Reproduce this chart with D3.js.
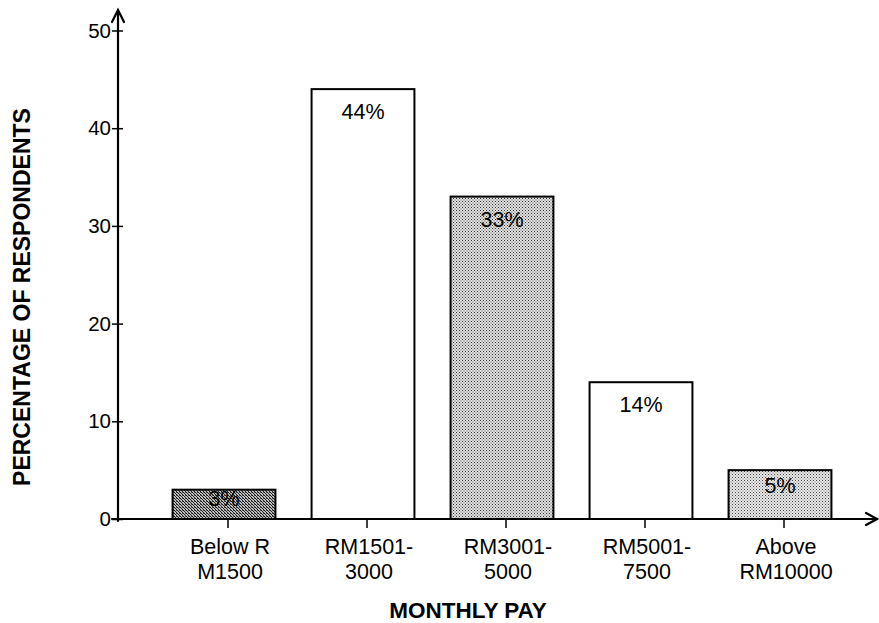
<!DOCTYPE html>
<html>
<head>
<meta charset="utf-8">
<script src="https://cdn.jsdelivr.net/npm/d3@7"></script>
<style>
  html, body { margin: 0; padding: 0; background: #fff; }
  svg { display: block; font-family: Arial, "Liberation Sans", Helvetica, sans-serif; }
</style>
</head>
<body>
<svg id="chart" width="879" height="623"></svg>
<script>
// Monthly pay bands (two-line labels) and share of respondents (%)
const categories = [
  ["Below R", "M1500"],
  ["RM1501-", "3000"],
  ["RM3001-", "5000"],
  ["RM5001-", "7500"],
  ["Above", "RM10000"]
];
const values = [3, 44, 33, 14, 5];
const valueLabels = ["3%", "44%", "33%", "14%", "5%"];
const yTicks = [0, 10, 20, 30, 40, 50];

// Fill style of each bar (pattern id or plain white)
const barFills = ["dense", "white", "dots", "white", "dotsLight"];

const svg = d3.select("#chart");

const axisX = 118, axisY = 519;

const x = d3.scaleBand()
  .domain(d3.range(values.length))
  .range([154.5, 849.5])
  .paddingInner(0.26)
  .paddingOuter(0.13);

const y = d3.scaleLinear().domain([0, 50]).range([axisY, 30.5]);

// Patterns
const defs = svg.append("defs");
function pattern(id, bg, dotsSpec) {
  const p = defs.append("pattern").attr("id", id)
    .attr("width", 3).attr("height", 3).attr("patternUnits", "userSpaceOnUse");
  p.append("rect").attr("width", 3).attr("height", 3).attr("fill", bg);
  dotsSpec.forEach(([px, py, c]) => {
    p.append("rect").attr("x", px).attr("y", py).attr("width", 1).attr("height", 1).attr("fill", c);
  });
}
pattern("dense", "#bdbdbd", [[0, 0, "#111"], [1, 1, "#222"], [2, 2, "#222"], [2, 0, "#555"]]);
pattern("dots", "#e0e0e0", [[0, 0, "#333"], [1.5, 1.5, "#555"]]);
pattern("dotsLight", "#e8e8e8", [[0, 0, "#444"], [1.5, 1.5, "#777"]]);

// Bars
svg.append("g").selectAll("rect")
  .data(values)
  .join("rect")
  .attr("x", (d, i) => x(i))
  .attr("y", d => y(d))
  .attr("width", x.bandwidth())
  .attr("height", d => y(0) - y(d))
  .attr("fill", (d, i) => barFills[i] === "white" ? "#fff" : `url(#${barFills[i]})`)
  .attr("stroke", "#000")
  .attr("stroke-width", 2);

// Value labels inside the bars
svg.append("g").selectAll("text")
  .data(values)
  .join("text")
  .attr("x", (d, i) => x(i) + x.bandwidth() / 2)
  .attr("y", d => {
    const h = y(0) - y(d);
    return y(d) + Math.min(22, h * 0.3) + 8;
  })
  .attr("text-anchor", "middle")
  .attr("font-size", 21.5)
  .attr("fill", "#000")
  .text((d, i) => valueLabels[i]);

// Y axis
const yAxis = d3.axisLeft(y).tickValues(yTicks).tickSize(0).tickPadding(7);
const gy = svg.append("g").attr("transform", `translate(${axisX},0)`).call(yAxis);
gy.select(".domain").remove();
gy.selectAll("text").attr("font-size", 20.5).attr("fill", "#000")
  .attr("font-family", "Arial, 'Liberation Sans', sans-serif");
gy.selectAll(".tick").append("line")
  .attr("x1", -6).attr("x2", 5).attr("stroke", "#000").attr("stroke-width", 1.5);

// X axis ticks and two-line labels
const gx = svg.append("g");
gx.selectAll("line.xt")
  .data(values)
  .join("line")
  .attr("class", "xt")
  .attr("x1", (d, i) => x(i) + x.bandwidth() / 2 + 4)
  .attr("x2", (d, i) => x(i) + x.bandwidth() / 2 + 4)
  .attr("y1", axisY).attr("y2", axisY + 9)
  .attr("stroke", "#000").attr("stroke-width", 1.5);

gx.selectAll("text")
  .data(categories)
  .join("text")
  .attr("text-anchor", "middle")
  .attr("font-size", 21.5)
  .attr("fill", "#000")
  .each(function (lines, i) {
    const t = d3.select(this);
    lines.forEach((ln, k) => {
      t.append("tspan")
        .attr("x", x(i) + x.bandwidth() / 2 + 6)
        .attr("y", axisY + 35 + k * 24.5)
        .text(ln);
    });
  });

// Axis lines with arrow heads
const axes = svg.append("g").attr("stroke", "#000").attr("fill", "none")
  .attr("stroke-width", 2.2).attr("stroke-linecap", "round");
axes.append("line").attr("x1", axisX).attr("x2", axisX).attr("y1", axisY + 2).attr("y2", 11);
axes.append("path").attr("d", `M${axisX - 6},${22} L${axisX},${10} L${axisX + 6},${22}`);
axes.append("line").attr("x1", axisX - 6).attr("x2", 877).attr("y1", axisY).attr("y2", axisY);
axes.append("path").attr("d", `M${866},${axisY - 6} L${877},${axisY} L${866},${axisY + 6}`);

// Axis titles
svg.append("text")
  .attr("x", 468).attr("y", 618)
  .attr("text-anchor", "middle")
  .attr("font-size", 22.5).attr("font-weight", "bold")
  .text("MONTHLY PAY");

svg.append("text")
  .attr("transform", "translate(30,297) rotate(-90)")
  .attr("text-anchor", "middle")
  .attr("font-size", 23).attr("font-weight", "bold")
  .text("PERCENTAGE OF RESPONDENTS");
</script>
</body>
</html>
